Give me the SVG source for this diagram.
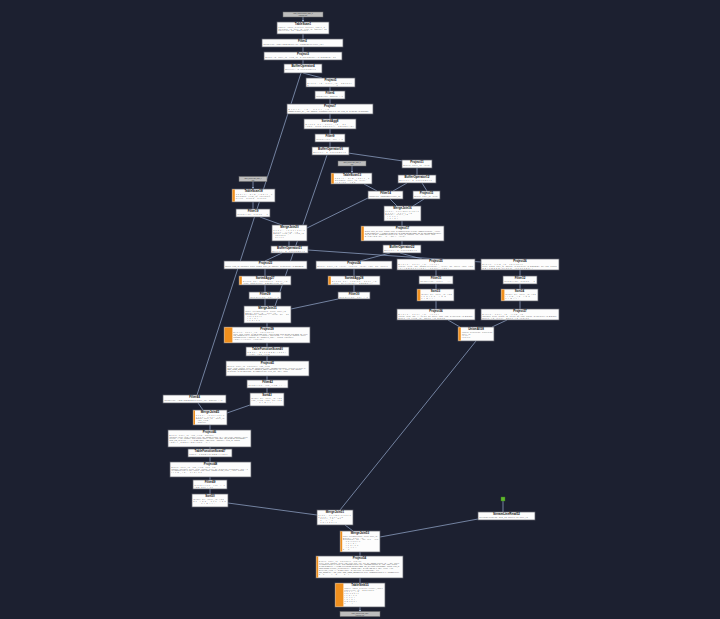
<svg xmlns="http://www.w3.org/2000/svg" width="720" height="619" viewBox="0 0 720 619">
<defs>
<marker id="ar" viewBox="0 0 6 6" refX="5" refY="3" markerWidth="3" markerHeight="3" orient="auto"><path d="M0,0L6,3L0,6z" fill="#a9c4ec"/></marker>
<style>
.bg{fill:#1c2030}
.n rect.b{fill:#fdfdfd;stroke:#5c5f68;stroke-width:0.7}
.n rect.o{fill:#f0901e}
.lb rect{fill:#bdbdbd;stroke:#6a6a6a;stroke-width:0.5}
.t{font-family:"Liberation Sans",Arial,sans-serif;font-size:3px;font-weight:bold;text-anchor:middle;fill:#111}
.d{font-family:"Liberation Sans",Arial,sans-serif;font-size:1.5px;fill:#3c3c3c}
.ld{font-family:"Liberation Sans",Arial,sans-serif;font-size:1.5px;fill:#333;text-anchor:middle}
.e line{stroke:#98acd0;stroke-width:0.7;fill:none}
.a{stroke:#a9c4ec;stroke-width:1;marker-end:url(#ar)}
</style>
</defs>
<rect class="bg" x="0" y="0" width="720" height="619"/>

<g id="edges" class="e">
<line x1="303" y1="34" x2="303" y2="39"/>
<line x1="303" y1="47" x2="303" y2="52"/>
<line x1="303" y1="60" x2="303" y2="64"/>
<line x1="303" y1="73" x2="322" y2="78"/>
<line x1="301" y1="73" x2="197" y2="395"/>
<line x1="330" y1="87" x2="330" y2="91"/>
<line x1="330" y1="99" x2="330" y2="104"/>
<line x1="330" y1="114" x2="330" y2="119"/>
<line x1="330" y1="129" x2="330" y2="134"/>
<line x1="330" y1="142" x2="330" y2="147"/>
<line x1="348" y1="153" x2="403" y2="161"/>
<line x1="327" y1="155" x2="275" y2="306"/>
<line x1="417" y1="168" x2="417" y2="175"/>
<line x1="364" y1="184" x2="377" y2="191"/>
<line x1="407" y1="183" x2="393" y2="191"/>
<line x1="422" y1="183" x2="427" y2="191"/>
<line x1="390" y1="199" x2="397" y2="206"/>
<line x1="424" y1="199" x2="413" y2="206"/>
<line x1="368" y1="198" x2="307" y2="228"/>
<line x1="402" y1="221" x2="402" y2="226"/>
<line x1="402" y1="241" x2="402" y2="245"/>
<line x1="253" y1="202" x2="253" y2="209"/>
<line x1="260" y1="217" x2="282" y2="225"/>
<line x1="289" y1="241" x2="289" y2="246"/>
<line x1="282" y1="253" x2="265" y2="261"/>
<line x1="308" y1="250" x2="481" y2="262"/>
<line x1="390" y1="253" x2="360" y2="261"/>
<line x1="400" y1="253" x2="422" y2="259"/>
<line x1="265" y1="268" x2="265" y2="276"/>
<line x1="354" y1="268" x2="354" y2="276"/>
<line x1="265" y1="285" x2="265" y2="292"/>
<line x1="354" y1="285" x2="354" y2="292"/>
<line x1="265" y1="299" x2="265" y2="306"/>
<line x1="338" y1="299" x2="291" y2="309"/>
<line x1="436" y1="270" x2="436" y2="276"/>
<line x1="520" y1="270" x2="520" y2="276"/>
<line x1="436" y1="284" x2="436" y2="289"/>
<line x1="520" y1="284" x2="520" y2="289"/>
<line x1="436" y1="301" x2="436" y2="309"/>
<line x1="520" y1="301" x2="520" y2="309"/>
<line x1="448" y1="320" x2="460" y2="327"/>
<line x1="507" y1="320" x2="492" y2="327"/>
<line x1="267" y1="323" x2="267" y2="327"/>
<line x1="267" y1="343" x2="267" y2="347"/>
<line x1="267" y1="356" x2="267" y2="361"/>
<line x1="267" y1="376" x2="267" y2="380"/>
<line x1="267" y1="388" x2="267" y2="393"/>
<line x1="250" y1="405" x2="227" y2="413"/>
<line x1="198" y1="403" x2="203" y2="410"/>
<line x1="210" y1="425" x2="210" y2="430"/>
<line x1="210" y1="447" x2="210" y2="449"/>
<line x1="210" y1="457" x2="210" y2="462"/>
<line x1="210" y1="477" x2="210" y2="480"/>
<line x1="210" y1="489" x2="210" y2="494"/>
<line x1="228" y1="503" x2="317" y2="515"/>
<line x1="476" y1="341" x2="340" y2="510"/>
<line x1="345" y1="525" x2="353" y2="531"/>
<line x1="478" y1="519" x2="380" y2="537"/>
<line x1="503" y1="501" x2="503" y2="512"/>
<line x1="360" y1="552" x2="360" y2="556"/>
<line x1="360" y1="578" x2="360" y2="583"/>
<line class="a" x1="303" y1="17" x2="303" y2="21.5"/>
<line class="a" x1="352" y1="166" x2="352" y2="172.5"/>
<line class="a" x1="253" y1="181.5" x2="253" y2="188.5"/>
<line class="a" x1="360" y1="607" x2="360" y2="611.5"/>
</g>

<g id="lab1" class="lb"><rect x="283" y="12" width="40" height="5"/><text class="ld" x="303" y="14.2">odps_project.source_table_a</text><text class="ld" x="303" y="16.1">(partition: ds)</text></g>
<g id="lab13" class="lb"><rect x="338" y="161" width="28" height="5"/><text class="ld" x="352" y="163.2">odps_project.dim_table_b</text><text class="ld" x="352" y="165.1">(full)</text></g>
<g id="lab18" class="lb"><rect x="239" y="176.5" width="28" height="5"/><text class="ld" x="253" y="178.7">odps_project.dim_table_c</text><text class="ld" x="253" y="180.6">(full)</text></g>
<g id="lab55" class="lb"><rect x="340" y="611.5" width="40" height="5"/><text class="ld" x="360" y="613.7">odps_project.result_table</text><text class="ld" x="360" y="615.6">(partition: ds)</text></g>
<g id="src52"><rect x="501" y="497" width="4" height="4" fill="#5fb82e" stroke="#3c7d1c" stroke-width="0.4"/></g>

<g id="n1" class="n"><rect class="b" x="277" y="22" width="52" height="12"/><text class="t" x="303" y="25.3">TableScan1</text><text class="d" x="278.5" y="27.6" textLength="46">Table: odps_project.source_table_a</text><text class="d" x="278.5" y="29.5" textLength="48">Columns: id, user_id, item_id, amount, ds</text><text class="d" x="278.5" y="31.4" textLength="30">Partition: ds='20240101'</text></g>
<g id="n2" class="n"><rect class="b" x="262" y="39" width="81" height="8"/><text class="t" x="302.5" y="42.3">Filter2</text><text class="d" x="263.5" y="44.8" textLength="60">Condition: AND(ISNOTNULL(id),ISNOTNULL(user_id))</text></g>
<g id="n3" class="n"><rect class="b" x="264" y="52" width="78" height="8"/><text class="t" x="303" y="55.3">Project3</text><text class="d" x="265.5" y="57.8" textLength="70">Exprs: id, user_id, item_id, CAST(amount AS DOUBLE), ds</text></g>
<g id="n4" class="n"><rect class="b" x="284" y="64" width="38" height="9"/><text class="t" x="303" y="67.3">BufferOperator4</text><text class="d" x="285.5" y="70.2" textLength="30">Buffer: 2 consumers</text></g>
<g id="n5" class="n"><rect class="b" x="306" y="78" width="49" height="9"/><text class="t" x="330.5" y="81.3">Project5</text><text class="d" x="307.5" y="83.8" textLength="44">Exprs: id, user_id, amount</text><text class="d" x="307.5" y="85.6" textLength="30">ds</text></g>
<g id="n6" class="n"><rect class="b" x="315" y="91" width="30" height="8"/><text class="t" x="330" y="94.3">Filter6</text><text class="d" x="316.5" y="96.8" textLength="26">Condition: amount &gt; 0</text></g>
<g id="n7" class="n"><rect class="b" x="287" y="104" width="86" height="10"/><text class="t" x="330" y="107.3">Project7</text><text class="d" x="288.5" y="109.7" textLength="40">Exprs: id, user_id</text><text class="d" x="288.5" y="111.6" textLength="80">CONCAT(user_id,'_',id), amount, IF(amount&gt;100,1,0), ds, item_id, CAST(ds AS STRING)</text></g>
<g id="n8" class="n"><rect class="b" x="304" y="119" width="52" height="10"/><text class="t" x="330" y="122.3">SortedAgg8</text><text class="d" x="305.5" y="124.7" textLength="40">Group by: user_id, ds</text><text class="d" x="305.5" y="126.6" textLength="48">Aggs: SUM(amount), COUNT(id)</text></g>
<g id="n9" class="n"><rect class="b" x="315" y="134" width="30" height="8"/><text class="t" x="330" y="137.3">Filter9</text><text class="d" x="316.5" y="139.8" textLength="26">Condition: cnt &gt; 1</text></g>
<g id="n10" class="n"><rect class="b" x="312" y="147" width="37" height="8"/><text class="t" x="330.5" y="150.3">BufferOperator10</text><text class="d" x="313.5" y="152.8" textLength="32">Buffer: 2 consumers</text></g>
<g id="n11" class="n"><rect class="b" x="402" y="160" width="30" height="8"/><text class="t" x="417" y="163.3">Project11</text><text class="d" x="403.5" y="165.8" textLength="26">Exprs: user_id, total</text></g>
<g id="n12" class="n"><rect class="b" x="398" y="175" width="38" height="8"/><text class="t" x="417" y="178.3">BufferOperator12</text><text class="d" x="399.5" y="180.8" textLength="32">Buffer: 2 consumers</text></g>
<g id="n13" class="n"><rect class="b" x="331" y="173" width="41" height="11"/><rect class="o" x="331.4" y="173.4" width="2.4" height="10.2"/><text class="t" x="352" y="176.3">TableScan13</text><text class="d" x="335" y="178.7" textLength="34">Table: dim_table_b</text><text class="d" x="335" y="180.6" textLength="30">Columns: user_id, level</text><text class="d" x="335" y="182.5" textLength="20">region, tag</text></g>
<g id="n14" class="n"><rect class="b" x="368" y="191" width="35" height="8"/><text class="t" x="385.5" y="194.3">Filter14</text><text class="d" x="369.5" y="196.8" textLength="31">Condition: ISNOTNULL(user_id)</text></g>
<g id="n15" class="n"><rect class="b" x="413" y="191" width="27" height="8"/><text class="t" x="426.5" y="194.3">Project15</text><text class="d" x="414.5" y="196.8" textLength="23">Exprs: user_id, total</text></g>
<g id="n16" class="n"><rect class="b" x="384" y="206" width="37" height="15"/><text class="t" x="402.5" y="209.3">MergeJoin16</text><text class="d" x="385.5" y="211.6" textLength="33">Type: LeftOuterJoin</text><text class="d" x="385.5" y="213.5" textLength="26">Keys: user_id</text><text class="d" x="385.5" y="215.4" textLength="22">Equal: user_id</text><text class="d" x="387.5" y="217.3" textLength="10">level</text><text class="d" x="387.5" y="219.2" textLength="10">total</text></g>
<g id="n17" class="n"><rect class="b" x="361" y="226" width="83" height="15"/><rect class="o" x="361.4" y="226.4" width="2.4" height="14.2"/><text class="t" x="402.5" y="229.3">Project17</text><text class="d" x="365" y="231.6" textLength="75">Exprs: user_id, level, region, total, IF(ISNULL(total),0,total), CONCAT(region,'_',level)</text><text class="d" x="365" y="233.5" textLength="76">CASE WHEN level='A' THEN 1 WHEN level='B' THEN 2 ELSE 3 END, tag, ds, COALESCE(tag,'none')</text><text class="d" x="365" y="235.4" textLength="70">TO_CHAR(ds), SUBSTR(region,1,2), user_id, amount, cnt, flag, score, rank</text><text class="d" x="365" y="237.3" textLength="40">DATEADD(ds, -1, 'dd'), total</text></g>
<g id="n18" class="n"><rect class="b" x="232" y="189" width="43" height="13"/><rect class="o" x="232.4" y="189.4" width="2.4" height="12.2"/><text class="t" x="253.5" y="192.3">TableScan18</text><text class="d" x="236" y="194.7" textLength="36">Table: dim_table_c</text><text class="d" x="236" y="196.6" textLength="34">Columns: item_id, category</text><text class="d" x="236" y="198.5" textLength="30">price, brand, status</text></g>
<g id="n19" class="n"><rect class="b" x="236" y="209" width="34" height="8"/><text class="t" x="253" y="212.3">Filter19</text><text class="d" x="237.5" y="214.8" textLength="30">Condition: status = 1</text></g>
<g id="n20" class="n"><rect class="b" x="272" y="225" width="35" height="16"/><text class="t" x="289.5" y="228.3">MergeJoin20</text><text class="d" x="273.5" y="230.6" textLength="31">Type: InnerJoin</text><text class="d" x="273.5" y="232.5" textLength="24">Keys: item_id</text><text class="d" x="273.5" y="234.4" textLength="30">Equal: item_id = item_id</text><text class="d" x="275.5" y="236.3" textLength="10">category</text><text class="d" x="275.5" y="238.2" textLength="8">price</text></g>
<g id="n21" class="n"><rect class="b" x="271" y="246" width="37" height="7"/><text class="t" x="289.5" y="249.2">BufferOperator21</text><text class="d" x="272.5" y="251.6" textLength="32">Buffer: 2 consumers</text></g>
<g id="n22" class="n"><rect class="b" x="383" y="245" width="38" height="8"/><text class="t" x="402" y="248.3">BufferOperator22</text><text class="d" x="384.5" y="250.8" textLength="32">Buffer: 2 consumers</text></g>
<g id="n23" class="n"><rect class="b" x="224" y="261" width="83" height="8"/><text class="t" x="265.5" y="264.3">Project23</text><text class="d" x="225.5" y="266.8" textLength="78">Exprs: item_id, category, price, brand, user_id, amount, CAST(price AS DOUBLE)</text></g>
<g id="n24" class="n"><rect class="b" x="316" y="261" width="76" height="8"/><text class="t" x="354" y="264.3">Project24</text><text class="d" x="317.5" y="266.8" textLength="70">Exprs: user_id, level, region, total, tag, ds, score</text></g>
<g id="n25" class="n"><rect class="b" x="397" y="259" width="78" height="11"/><text class="t" x="436" y="262.3">Project25</text><text class="d" x="398.5" y="264.7" textLength="40">Exprs: user_id, level</text><text class="d" x="398.5" y="266.6" textLength="74">region, total, tag, CONCAT(region,'_',level), ds, score, rank, flag</text><text class="d" x="398.5" y="268.5" textLength="50">IF(ISNULL(tag),'none',tag)</text></g>
<g id="n26" class="n"><rect class="b" x="481" y="259" width="78" height="11"/><text class="t" x="520" y="262.3">Project26</text><text class="d" x="482.5" y="264.7" textLength="40">Exprs: item_id, category</text><text class="d" x="482.5" y="266.6" textLength="74">price, brand, user_id, amount, CAST(price AS DOUBLE), ds, flag, status</text><text class="d" x="482.5" y="268.5" textLength="50">COALESCE(brand,'unknown')</text></g>
<g id="n27" class="n"><rect class="b" x="239" y="276" width="52" height="9"/><rect class="o" x="239.4" y="276.4" width="2.4" height="8.2"/><text class="t" x="265" y="279.3">SortedAgg27</text><text class="d" x="243" y="281.6" textLength="44">Group by: category, user_id</text><text class="d" x="243" y="283.5" textLength="40">Aggs: SUM(price), COUNT(item_id)</text></g>
<g id="n28" class="n"><rect class="b" x="328" y="276" width="52" height="9"/><rect class="o" x="328.4" y="276.4" width="2.4" height="8.2"/><text class="t" x="354" y="279.3">SortedAgg28</text><text class="d" x="332" y="281.6" textLength="44">Group by: region, user_id</text><text class="d" x="332" y="283.5" textLength="40">Aggs: MAX(total), COUNT(*)</text></g>
<g id="n29" class="n"><rect class="b" x="249" y="292" width="32" height="7"/><text class="t" x="265" y="295.2">Filter29</text><text class="d" x="250.5" y="297.6" textLength="28">Condition: cnt &gt; 0</text></g>
<g id="n30" class="n"><rect class="b" x="338" y="292" width="32" height="7"/><text class="t" x="354" y="295.2">Filter30</text><text class="d" x="339.5" y="297.6" textLength="28">Condition: cnt &gt; 0</text></g>
<g id="n31" class="n"><rect class="b" x="419" y="276" width="34" height="8"/><text class="t" x="436" y="279.3">Filter31</text><text class="d" x="420.5" y="281.8" textLength="30">Condition: level = 'A'</text></g>
<g id="n32" class="n"><rect class="b" x="503" y="276" width="34" height="8"/><text class="t" x="520" y="279.3">Filter32</text><text class="d" x="504.5" y="281.8" textLength="30">Condition: status = 1</text></g>
<g id="n33" class="n"><rect class="b" x="417" y="289" width="37" height="12"/><rect class="o" x="417.4" y="289.4" width="3" height="11.2"/><text class="t" x="435.5" y="292.3">Sort33</text><text class="d" x="421.5" y="294.7" textLength="30">Order by: user_id ASC</text><text class="d" x="421.5" y="296.6" textLength="24">region ASC</text><text class="d" x="421.5" y="298.5" textLength="18">Limit: -</text></g>
<g id="n34" class="n"><rect class="b" x="501" y="289" width="37" height="12"/><rect class="o" x="501.4" y="289.4" width="3" height="11.2"/><text class="t" x="519.5" y="292.3">Sort34</text><text class="d" x="505.5" y="294.7" textLength="30">Order by: user_id ASC</text><text class="d" x="505.5" y="296.6" textLength="24">item_id ASC</text><text class="d" x="505.5" y="298.5" textLength="18">Limit: -</text></g>
<g id="n35" class="n"><rect class="b" x="244" y="306" width="47" height="17"/><text class="t" x="267.5" y="309.3">MergeJoin35</text><text class="d" x="245.5" y="311.6" textLength="40">Type: LeftOuterJoin, Keys: user_id</text><text class="d" x="245.5" y="313.5" textLength="30">Equal: user_id = user_id</text><text class="d" x="245.5" y="315.4" textLength="43">NonEqual: amount &gt;= total, ds = ds</text><text class="d" x="247.5" y="317.3" textLength="14">category</text><text class="d" x="247.5" y="319.2" textLength="10">total</text><text class="d" x="247.5" y="321.1" textLength="12">region</text></g>
<g id="n36" class="n"><rect class="b" x="397" y="309" width="78" height="11"/><text class="t" x="436" y="312.3">Project36</text><text class="d" x="398.5" y="314.7" textLength="40">Exprs: user_id, level</text><text class="d" x="398.5" y="316.6" textLength="74">region, total, tag, 'A' AS src, ds, score, rank, flag, CAST(total AS BIGINT)</text><text class="d" x="398.5" y="318.5" textLength="46">NULL AS item_id, NULL AS brand</text></g>
<g id="n37" class="n"><rect class="b" x="481" y="309" width="78" height="11"/><text class="t" x="520" y="312.3">Project37</text><text class="d" x="482.5" y="314.7" textLength="40">Exprs: user_id, item_id</text><text class="d" x="482.5" y="316.6" textLength="74">category, price, brand, 'B' AS src, ds, flag, status, CAST(price AS BIGINT)</text><text class="d" x="482.5" y="318.5" textLength="46">NULL AS level, NULL AS region</text></g>
<g id="n38" class="n"><rect class="b" x="458" y="327" width="36" height="14"/><rect class="o" x="458.4" y="327.4" width="2.4" height="13.2"/><text class="t" x="476" y="330.3">UnionAll38</text><text class="d" x="462" y="332.6" textLength="30">Inputs: Project36, Project37</text><text class="d" x="462" y="334.5" textLength="8">user_id</text><text class="d" x="462" y="336.4" textLength="6">level</text><text class="d" x="462" y="338.3" textLength="8">region</text></g>
<g id="n39" class="n"><rect class="b" x="224" y="327" width="86" height="16"/><rect class="o" x="224.4" y="327.4" width="8" height="15.2"/><text class="t" x="267" y="330.3">Project39</text><text class="d" x="233.5" y="332.6" textLength="40">Exprs: user_id, category</text><text class="d" x="233.5" y="334.5" textLength="74">price, total, region, CASE WHEN total &gt; 1000 THEN 'high' ELSE 'low' END, ds, level</text><text class="d" x="233.5" y="336.4" textLength="72">TO_JSON(MAP('c',category,'r',region)), SPLIT(tag, ','), item_id, amount, score</text><text class="d" x="233.5" y="338.3" textLength="60">ROUND(price * amount, 2), CONCAT_WS(',', brand, category)</text><text class="d" x="233.5" y="340.2" textLength="30">ARRAY(level, region)</text></g>
<g id="n40" class="n"><rect class="b" x="246" y="347" width="43" height="9"/><text class="t" x="267.5" y="350.3">TableFunctionScan40</text><text class="d" x="247.5" y="352.7" textLength="38">UDTF: EXPLODE(tags)</text><text class="d" x="247.5" y="354.5" textLength="22">Alias: tag_item</text></g>
<g id="n41" class="n"><rect class="b" x="226" y="361" width="83" height="15"/><text class="t" x="267.5" y="364.3">Project41</text><text class="d" x="227.5" y="366.6" textLength="42">Exprs: user_id, category, tag_item</text><text class="d" x="227.5" y="368.5" textLength="78">price, total, region, level, ds, TRIM(tag_item), LOWER(category), IF(price&gt;0,price,0)</text><text class="d" x="227.5" y="370.4" textLength="74">GET_JSON_OBJECT(ext,'$.k'), REGEXP_REPLACE(region,'\\s',''), score, flag, amount</text><text class="d" x="227.5" y="372.3" textLength="60">CAST(ds AS DATETIME), DATEDIFF(ds, first_ds, 'dd'), rank</text></g>
<g id="n42" class="n"><rect class="b" x="247" y="380" width="41" height="8"/><text class="t" x="267.5" y="383.3">Filter42</text><text class="d" x="248.5" y="385.8" textLength="37">Condition: tag_item &lt;&gt; ''</text></g>
<g id="n43" class="n"><rect class="b" x="250" y="393" width="34" height="13"/><text class="t" x="267" y="396.3">Sort43</text><text class="d" x="251.5" y="398.7" textLength="30">Order by: user_id ASC</text><text class="d" x="251.5" y="400.6" textLength="30">tag_item ASC, ds ASC</text><text class="d" x="259.5" y="402.5" textLength="18">Limit: -</text></g>
<g id="n44" class="n"><rect class="b" x="163" y="395" width="63" height="8"/><text class="t" x="194.5" y="398.3">Filter44</text><text class="d" x="164.5" y="400.8" textLength="58">Condition: AND(ISNOTNULL(user_id), amount &gt; 0)</text></g>
<g id="n45" class="n"><rect class="b" x="193" y="410" width="34" height="15"/><rect class="o" x="193.4" y="410.4" width="1.6" height="14.2"/><text class="t" x="210" y="413.3">MergeJoin45</text><text class="d" x="196" y="415.6" textLength="28">Type: InnerJoin</text><text class="d" x="196" y="417.5" textLength="24">Keys: user_id</text><text class="d" x="196" y="419.4" textLength="28">Equal: user_id = user_id</text><text class="d" x="198" y="421.3" textLength="10">tag_item</text><text class="d" x="198" y="423.2" textLength="8">amount</text></g>
<g id="n46" class="n"><rect class="b" x="168" y="430" width="83" height="17"/><text class="t" x="209.5" y="433.3">Project46</text><text class="d" x="169.5" y="435.6" textLength="44">Exprs: user_id, tag_item, amount</text><text class="d" x="169.5" y="437.5" textLength="78">category, price, total, region, level, ds, CONCAT(user_id,'#',tag_item), amount * price</text><text class="d" x="169.5" y="439.4" textLength="76">IF(level='A','vip','normal'), NVL(region,'other'), score, flag, rank, TO_DATE(ds,'yyyymmdd')</text><text class="d" x="169.5" y="441.3" textLength="70">STR_TO_MAP(ext,',',':'), SIZE(tags), ABS(total - amount), item_id, brand</text><text class="d" x="169.5" y="443.2" textLength="40">ARRAY_CONTAINS(tags, 'x')</text></g>
<g id="n47" class="n"><rect class="b" x="188" y="449" width="44" height="8"/><text class="t" x="210" y="452.3">TableFunctionScan47</text><text class="d" x="189.5" y="454.8" textLength="38">UDTF: POSEXPLODE(items)</text></g>
<g id="n48" class="n"><rect class="b" x="170" y="462" width="81" height="15"/><text class="t" x="210.5" y="465.3">Project48</text><text class="d" x="171.5" y="467.6" textLength="44">Exprs: user_id, tag_item, pos, val</text><text class="d" x="171.5" y="469.5" textLength="76">amount, category, price, total, region, level, ds, CAST(val AS BIGINT), pos + 1</text><text class="d" x="171.5" y="471.4" textLength="72">IF(ISNULL(val),0,val), score, flag, rank, CONCAT(tag_item,'_',pos), brand</text><text class="d" x="171.5" y="473.3" textLength="30">item_id, status</text></g>
<g id="n49" class="n"><rect class="b" x="193" y="480" width="34" height="9"/><text class="t" x="210" y="483.3">Filter49</text><text class="d" x="194.5" y="485.7" textLength="30">Condition: val &gt; 0</text><text class="d" x="194.5" y="487.5" textLength="18">AND pos &lt; 10</text></g>
<g id="n50" class="n"><rect class="b" x="192" y="494" width="36" height="13"/><text class="t" x="210" y="497.3">Sort50</text><text class="d" x="193.5" y="499.7" textLength="30">Order by: user_id ASC</text><text class="d" x="193.5" y="501.6" textLength="32">ds ASC, pos ASC</text><text class="d" x="201.5" y="503.5" textLength="18">Limit: -</text></g>
<g id="n51" class="n"><rect class="b" x="317" y="510" width="36" height="15"/><text class="t" x="335" y="513.3">MergeJoin51</text><text class="d" x="318.5" y="515.6" textLength="32">Type: LeftOuterJoin</text><text class="d" x="318.5" y="517.5" textLength="24">Keys: user_id</text><text class="d" x="320.5" y="519.4" textLength="20">user_id, ds</text><text class="d" x="320.5" y="521.3" textLength="12">src</text><text class="d" x="320.5" y="523.2" textLength="16">category</text></g>
<g id="n52" class="n"><rect class="b" x="478" y="512" width="57" height="8"/><text class="t" x="506.5" y="515.3">StreamLineRead52</text><text class="d" x="479.5" y="517.8" textLength="48">StreamLineRead: R12_52 shuffle by user_id</text></g>
<g id="n53" class="n"><rect class="b" x="340" y="531" width="40" height="21"/><rect class="o" x="340.4" y="531.4" width="1.8" height="20.2"/><text class="t" x="360" y="534.3">MergeJoin53</text><text class="d" x="343" y="536.6" textLength="34">Type: LeftOuterJoin, Keys: user_id</text><text class="d" x="343" y="538.5" textLength="20">Equal: user_id</text><text class="d" x="343" y="540.4" textLength="35">NonEqual: ds = ds, src = src</text><text class="d" x="346" y="542.3" textLength="14">category</text><text class="d" x="346" y="544.2" textLength="10">total</text><text class="d" x="346" y="546.1" textLength="12">region</text><text class="d" x="346" y="548" textLength="10">level</text><text class="d" x="343" y="549.9" textLength="6">ds</text></g>
<g id="n54" class="n"><rect class="b" x="316" y="556" width="87" height="22"/><rect class="o" x="316.4" y="556.4" width="1.8" height="21.2"/><text class="t" x="359.5" y="559.3">Project54</text><text class="d" x="319" y="561.6" textLength="42">Exprs: user_id, category, region</text><text class="d" x="319" y="563.5" textLength="80">level, total, amount, price, tag_item, pos, val, src, ds, CONCAT(user_id,'_',ds), score</text><text class="d" x="319" y="565.4" textLength="78">IF(ISNULL(total),0,total), COALESCE(region,'na'), ROUND(amount,2), flag, rank, status</text><text class="d" x="319" y="567.3" textLength="80">CASE WHEN src='A' THEN level ELSE category END, TO_CHAR(ds,'yyyymmdd'), brand, item_id</text><text class="d" x="319" y="569.2" textLength="74">MD5(CONCAT(user_id,category)), GETDATE(), DATEADD(ds,1,'dd'), price * val</text><text class="d" x="319" y="571.1" textLength="60">NVL(tag_item,''), SIZE(tags), CAST(pos AS STRING), ext</text><text class="d" x="319" y="573" textLength="80">WM_CONCAT(',', tag_item), GET_JSON_OBJECT(ext,'$.a'), SUBSTR(region,1,4), UPPER(level)</text><text class="d" x="319" y="574.9" textLength="30">ds AS pt</text></g>
<g id="n55" class="n"><rect class="b" x="335" y="583" width="50" height="24"/><rect class="o" x="335.4" y="583.4" width="8" height="23.2"/><text class="t" x="360" y="586.3">TableSink55</text><text class="d" x="344.5" y="588.6" textLength="38">Table: odps_project.result_table</text><text class="d" x="344.5" y="590.5" textLength="30">Partition: pt='20240101'</text><text class="d" x="344.5" y="592.4" textLength="14">user_id</text><text class="d" x="344.5" y="594.3" textLength="14">category</text><text class="d" x="344.5" y="596.2" textLength="12">region</text><text class="d" x="344.5" y="598.1" textLength="10">level</text><text class="d" x="344.5" y="600" textLength="10">total</text><text class="d" x="344.5" y="601.9" textLength="12">amount</text><text class="d" x="344.5" y="603.8" textLength="8">pt</text></g>
</svg>
